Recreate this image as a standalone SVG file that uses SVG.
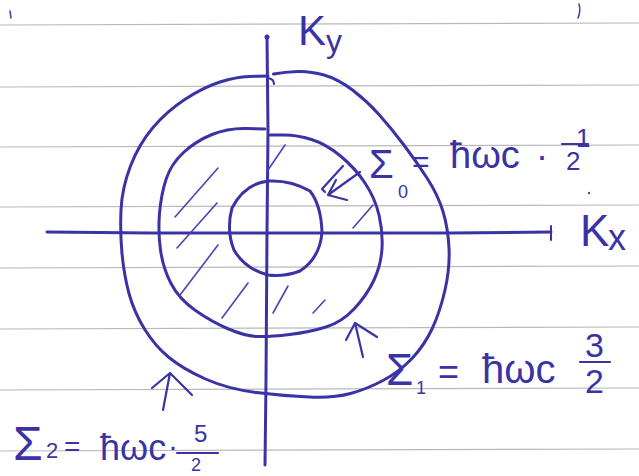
<svg xmlns="http://www.w3.org/2000/svg" width="639" height="476" viewBox="0 0 639 476">
<style>
.rule{stroke:#b9b9b9;stroke-width:1.2;fill:none}
.ink{stroke:#3a33a6;stroke-width:3;fill:none;stroke-linecap:round;stroke-linejoin:round}
.hatch{stroke:#4a44b0;stroke-width:1.6;fill:none;stroke-linecap:round}
.t{fill:#3a33a6;font-family:"Liberation Sans","DejaVu Sans",sans-serif}
</style>
<rect width="639" height="476" fill="#ffffff"/>
<g id="paper">
<path class="rule" d="M0,25 L639,23"/>
<path class="rule" d="M0,87 L639,85"/>
<path class="rule" d="M0,147 L639,145"/>
<path class="rule" d="M0,207 L639,205"/>
<path class="rule" d="M0,268 L639,266"/>
<path class="rule" d="M0,329 L639,327"/>
<path class="rule" d="M0,390 L639,388"/>
<path class="rule" d="M0,451 L639,449"/>
<path class="hatch" d="M10,11 L11,18"/>
<path class="hatch" d="M579,4 Q581,11 578,18"/>
<circle cx="589" cy="193" r="1.2" fill="#4a44b0"/>
</g>
<g id="axes">
<path class="ink" d="M267,37 L268,130 L267,233 L266,380 L265,465"/>
<circle cx="267" cy="37" r="2.5" fill="#3a33a6"/>
<path class="ink" d="M47,232 L150,233 L300,233 L450,233 L551,232"/>
<path class="ink" d="M551,226 L551,240" style="stroke-width:2"/>
</g>
<g id="outer-circle">
<path class="ink" d="M273.5,74 Q285,72 297.5,71.5 Q310,71 324,75 Q338,79 352.5,90 Q367,101 379,114.5 Q391,128 403.5,144.5 Q416,161 427,178 Q438,195 443,211.5 Q448,228 449,248 Q450,268 445,290 Q440,312 432,329 Q424,346 411.5,359 Q399,372 383,380.5 Q367,389 350.5,393.5 Q334,398 309.5,397 Q285,396 256.5,392.5 Q228,389 205.5,379 Q183,369 169,357.5 Q155,346 144.5,329 Q134,312 129,293.5 Q124,275 122,253.5 Q120,232 121,210 Q122,188 130.5,166 Q139,144 153,127.5 Q167,111 185.5,99 Q204,87 220,82 Q236,77 249,76.5 Q262,76 268,76"/>
<path class="ink" d="M268,78 Q274,79 274,84" style="stroke-width:2.2"/>
</g>
<g id="middle-circle">
<path class="ink" d="M265,129 L246.5,128.5 Q228,128 212,134.5 Q196,141 183.5,152.5 Q171,164 166,179.5 Q161,195 159.5,213.5 Q158,232 160.5,250 Q163,268 171,283.5 Q179,299 195.5,310.5 Q212,322 228.5,329 Q245,336 257,336.5 Q269,337 289.5,334.5 Q310,332 326,327 Q342,322 354.5,308.5 Q367,295 374,280 Q381,265 382,248.5 Q383,232 379,215 Q375,198 365,183 Q355,168 340.5,156 Q326,144 311.5,139.5 Q297,135 284.5,135 L270,135"/>
</g>
<g id="inner-circle">
<path class="ink" d="M269,181 Q291,180 310,191 Q321,205 322,232 Q320,258 300,271 Q284,277 268,275 Q245,269 234,250 Q226,230 232,208 Q245,183 269,181 Z"/>
</g>
<g id="hatching">
<path class="hatch" d="M175,217 L218,168"/>
<path class="hatch" d="M177,248 L217,203"/>
<path class="hatch" d="M180,295 L218,245"/>
<path class="hatch" d="M222,318 L248,283"/>
<path class="hatch" d="M273,313 L288,286"/>
<path class="hatch" d="M313,313 L325,300"/>
<path class="hatch" d="M268,170 L285,145"/>
<path class="hatch" d="M353,228 L373,205"/>
</g>
<g id="connectors">
<path class="ink" d="M343,166 L322,189 L325,192" style="stroke-width:2.2"/>
<path class="ink" d="M360,172 L328,195 M328,195 L347,200 M328,195 L336,180" style="stroke-width:2.2"/>
<path class="ink" d="M363,357 L355,323 M346,340 L355,323 L377,337" style="stroke-width:2.2"/>
<path class="ink" d="M163,410 L170,373 M152,388 L170,373 L192,395" style="stroke-width:2.2"/>
</g>
<g id="label-ky">
<text class="t" x="298" y="45" font-size="42">K</text>
<text class="t" x="326" y="52" font-size="32">y</text>
</g>
<g id="label-kx">
<text class="t" x="580" y="246" font-size="44">K</text>
<text class="t" x="608" y="250" font-size="36">x</text>
</g>
<g id="label-e0">
<text class="t" x="369" y="178" font-size="40">Σ</text>
<text class="t" x="398" y="198" font-size="18">0</text>
<text class="t" x="412" y="172" font-size="30">=</text>
<text class="t" x="450" y="168" font-size="38">ħωc</text>
<text class="t" x="536" y="168" font-size="36">·</text>
<text class="t" x="576" y="147" font-size="26">1</text>
<path class="ink" d="M562,144 L588,144" style="stroke-width:2.2"/>
<text class="t" x="566" y="170" font-size="26">2</text>
</g>
<g id="label-e1">
<text class="t" x="386" y="385" font-size="44">Σ</text>
<text class="t" x="416" y="394" font-size="18">1</text>
<text class="t" x="438" y="384" font-size="36">=</text>
<text class="t" x="482" y="383" font-size="40">ħωc</text>
<text class="t" x="585" y="357" font-size="34">3</text>
<path class="ink" d="M580,362 L610,362" style="stroke-width:2.2"/>
<text class="t" x="585" y="393" font-size="34">2</text>
</g>
<g id="label-e2">
<text class="t" x="13" y="460" font-size="48">Σ</text>
<text class="t" x="46" y="458" font-size="22">2</text>
<text class="t" x="64" y="456" font-size="28">=</text>
<text class="t" x="100" y="460" font-size="36">ħωc</text>
<text class="t" x="168" y="456" font-size="30">·</text>
<text class="t" x="194" y="442" font-size="24">5</text>
<path class="ink" d="M177,453 L218,453" style="stroke-width:2.2"/>
<text class="t" x="191" y="471" font-size="18">2</text>
</g>
</svg>
